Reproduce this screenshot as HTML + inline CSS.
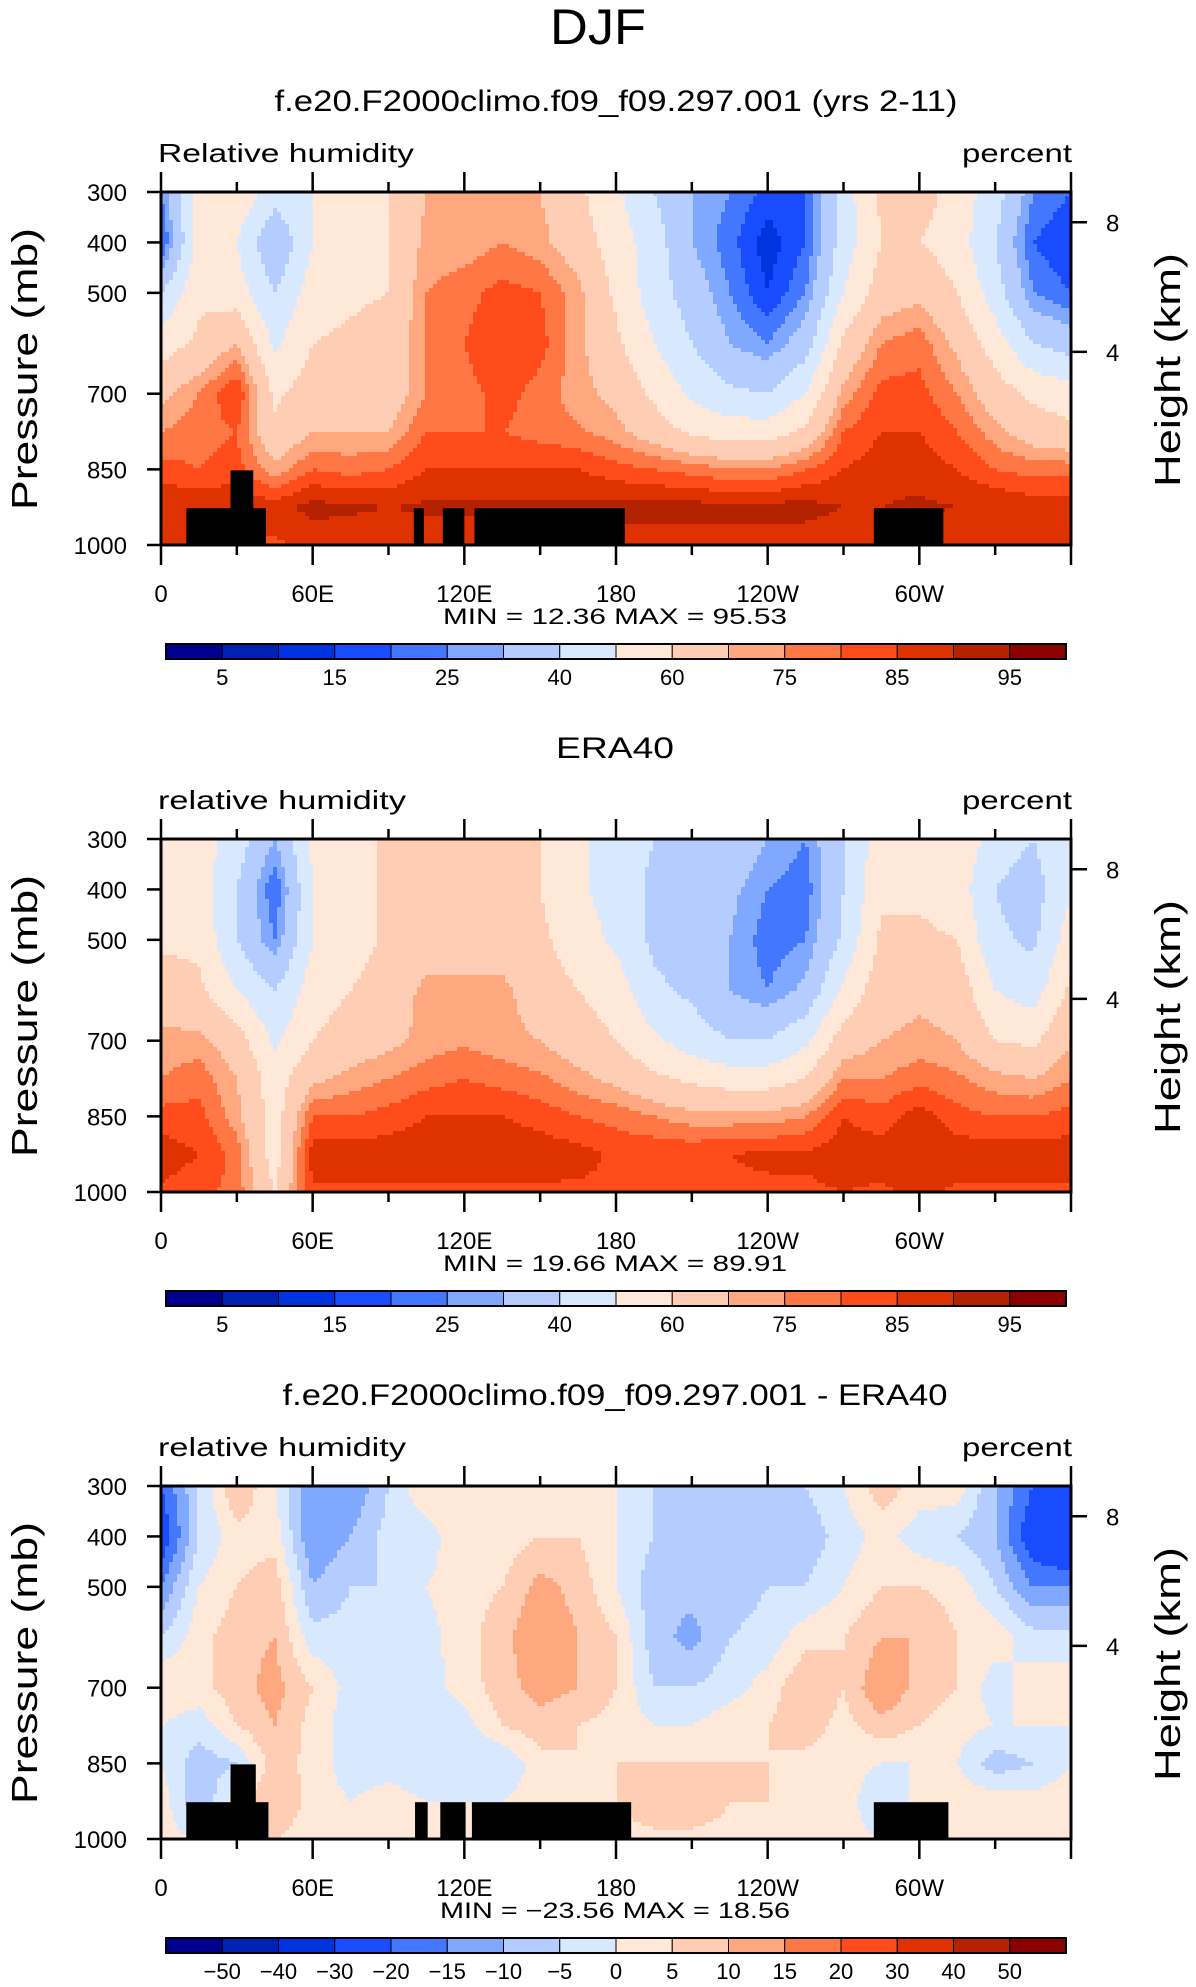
<!DOCTYPE html>
<html><head><meta charset="utf-8">
<style>
html,body{margin:0;padding:0;background:#fff;}
svg{display:block;}
text{font-family:"Liberation Sans",sans-serif;fill:#000;}
</style></head>
<body>
<svg id="fig" width="1196" height="1987" viewBox="0 0 1196 1987" xmlns="http://www.w3.org/2000/svg">
<text x="598" y="44" font-size="50" text-anchor="middle" textLength="96" lengthAdjust="spacingAndGlyphs">DJF</text>
</svg>
<script>
// ---- data ----
const lons = [0,15,30,45,60,75,90,105,120,135,150,165,180,195,210,225,240,255,270,285,300,315,330,345,360];
const levels = [300,400,500,600,700,775,850,925,1000];
const modelRH = [
[25,55,58,45,50,55,60,70,72,72,70,62,52,40,30,25,18,20,45,62,65,55,45,25,20],
[18,55,50,30,50,55,60,72,72,75,72,65,55,45,30,22,12,20,45,60,60,55,40,20,15],
[40,58,55,40,55,58,60,75,78,82,80,72,58,45,35,25,15,25,50,65,68,60,45,25,20],
[55,62,70,48,60,62,65,75,80,85,82,72,62,50,40,30,25,35,62,75,78,68,55,40,35],
[68,75,85,58,65,65,65,75,78,82,78,72,68,58,48,42,40,50,72,82,82,75,65,58,55],
[75,78,80,62,70,70,70,80,80,80,78,76,72,65,58,55,55,62,80,85,85,80,72,65,62],
[82,80,82,72,80,78,80,85,85,85,85,85,82,80,78,75,75,80,85,88,88,85,80,78,78],
[90,90,90,88,92,91,90,91,91,91,91,91,92,92,92,92,92,92,90,90,91,90,90,88,88],
[86,86,84,84,86,86,86,86,86,86,86,86,87,87,87,87,87,87,86,86,86,86,86,86,86]];
const eraRH = [
[55,55,45,30,52,55,62,65,65,65,60,52,45,40,38,38,30,25,40,55,60,58,45,40,50],
[55,55,40,20,50,55,62,65,65,65,60,52,45,38,35,32,25,22,40,58,58,55,40,35,50],
[58,58,40,25,50,55,62,65,65,65,62,55,48,38,35,30,22,25,42,62,62,60,42,38,55],
[65,62,50,40,55,60,65,72,72,72,65,60,55,42,38,30,25,32,52,66,68,66,50,45,62],
[72,72,65,48,60,65,68,72,74,72,70,65,60,52,45,40,40,48,65,70,72,70,60,58,70],
[75,78,70,55,68,72,75,78,80,78,76,72,68,62,58,55,55,60,75,75,78,76,72,70,75],
[82,82,72,55,80,80,82,85,85,85,83,80,78,75,72,72,72,75,85,82,88,82,80,80,82],
[88,85,78,55,88,88,88,89,89,89,88,87,84,84,84,85,86,86,88,88,89,88,88,88,88],
[84,82,78,60,84,84,84,84,84,84,84,84,84,84,84,84,84,84,85,84,86,84,84,84,84]];
const diffRH = [
[-20,-5,10,0,-15,-15,-5,5,5,0,3,3,0,-5,-5,-5,-5,-5,0,8,3,3,-10,-20,-25],
[-25,-5,3,3,-15,-10,-3,-3,5,2,5,5,0,-5,-8,-10,-8,-8,-3,2,-3,-5,-10,-25,-30],
[-15,0,5,8,-10,-5,-5,0,3,5,12,8,0,-8,-8,-8,-5,-5,0,5,5,3,-5,-15,-15],
[-5,3,8,10,-3,-3,-3,-2,3,8,15,10,5,-8,-12,-5,-3,3,5,10,10,5,3,-3,-3],
[5,3,8,12,5,-2,0,-2,2,8,12,10,5,-5,-5,-2,2,10,5,15,8,5,-3,3,3],
[0,-3,5,10,3,-3,-3,-3,-2,5,8,5,3,0,0,3,5,8,3,8,5,2,0,0,0],
[0,-8,-5,8,3,-3,-2,-3,-5,-5,3,5,5,5,5,5,5,3,2,0,0,0,-8,-5,0],
[3,-10,3,10,3,0,2,0,0,0,3,3,5,10,10,5,5,3,3,-5,2,3,3,2,3],
[2,0,2,5,2,2,2,0,0,2,3,3,3,3,3,3,2,2,2,0,2,3,2,2,2]];
const rhBounds = [5,10,15,20,25,30,40,50,60,70,75,80,85,90,95];
const rhLabels = ["5","","15","","25","","40","","60","","75","","85","","95"];
const diffBounds = [-50,-40,-30,-20,-15,-10,-5,0,5,10,15,20,30,40,50];
const diffLabels = ["\u221250","\u221240","\u221230","\u221220","\u221215","\u221210","\u22125","0","5","10","15","20","30","40","50"];
const terrain1 = [[10,41.5,927],[27.5,36.5,852],[100,104,927],[111.5,120,927],[124,183.5,927],[282,309.5,927]];
const terrain3 = [[10,42.5,927],[27.5,37.5,852],[100.5,105.5,927],[110.5,120.5,927],[123,186,927],[282,311.5,927]];
const xTickVals = [0,60,120,180,240,300];
const xTickLabels = ["0","60E","120E","180","120W","60W"];
const pTicks = [300,400,500,700,850,1000];
const hTicks = [8,4];
const hTickP = [360,617];
const palette = ["#00008f","#0022b4","#0033e0","#1a4cff","#4477ff","#80a8ff","#b4ccff","#d8e8ff","#ffe8d8","#ffccb4","#ffa880","#ff7744","#ff4c1a","#de3300","#b42200","#8b0000"];

// ---- layout ----
const NS="http://www.w3.org/2000/svg";
const svg=document.getElementById('fig');
const PX0=161, PX1=1071, PH=353;
function el(tag,attrs,parent){const e=document.createElementNS(NS,tag);for(const k in attrs)e.setAttribute(k,attrs[k]);(parent||svg).appendChild(e);return e;}
function xScale(lon){return PX0+(lon/360)*(PX1-PX0);}
function yScale(p,top){return top+(p-300)/700*PH;}
function colorFor(v,b){let i=0;while(i<b.length&&v>=b[i])i++;return palette[i];}
function sample(grid,lon,p){
  let i=Math.min(Math.floor(lon/15),23);let fx=(lon-lons[i])/15;
  let j=0;while(j<levels.length-2&&p>levels[j+1])j++;
  let fy=(p-levels[j])/(levels[j+1]-levels[j]);
  const a=grid[j][i],b=grid[j][i+1],c=grid[j+1][i],d=grid[j+1][i+1];
  return (a*(1-fx)+b*fx)*(1-fy)+(c*(1-fx)+d*fx)*fy;
}
function panel(off,title,titleLen,titleX,left,minmax,mmLen,grid,bounds,labels,terrain,pname){
  const top=192+off;
  const g=el('g',{});
  
  
  const t=el('text',{x:titleX,y:111+off,'font-size':30,'text-anchor':'middle',textLength:titleLen,lengthAdjust:'spacingAndGlyphs'},g);
  t.textContent=title;
  
  
  const l=el('text',{x:158,y:162+off,'font-size':26,textLength:left==='Relative humidity'?256:248,lengthAdjust:'spacingAndGlyphs'},g);
  l.textContent=left;
  
  
  const u=el('text',{x:1072,y:162+off,'font-size':26,'text-anchor':'end',textLength:110,lengthAdjust:'spacingAndGlyphs'},g);
  u.textContent='percent';
  
  
  const hm=el('g',{'shape-rendering':'crispEdges'},g);
  
  
  const cw=4,ch=4;
  for(let y=0;y<PH;y+=ch){
    const p=300+(y+ch/2)/PH*700;
    let x=0;
    while(x<PX1-PX0){
      const lon=(x+cw/2)/(PX1-PX0)*360;
      const c=colorFor(sample(grid,lon,p),bounds);
      let w=cw;
      while(x+w<PX1-PX0){const lon2=(x+w+cw/2)/(PX1-PX0)*360;if(colorFor(sample(grid,lon2,p),bounds)!==c)break;w+=cw;}
      const r=el('rect',{x:PX0+x,y:top+y,width:Math.min(w,PX1-PX0-x)+0.5,height:Math.min(ch,PH-y)+0.5,fill:c},hm);
      
      
      x+=w;
    }
  }
  if(terrain){for(const tr of terrain){
    const r=el('rect',{x:xScale(tr[0]),y:yScale(tr[2],top),width:xScale(tr[1])-xScale(tr[0]),height:yScale(1000,top)-yScale(tr[2],top),fill:'#000'},g);
    
    
  }}
  const fr=el('rect',{x:PX0,y:top,width:PX1-PX0,height:PH,fill:'none',stroke:'#000','stroke-width':3},g);
  
  
  for(let lon=0;lon<=360;lon+=30){
    const maj=lon%60===0,len=maj?20:10,x=xScale(lon);
    el('line',{x1:x,y1:top,x2:x,y2:top-len,stroke:'#000','stroke-width':2.5},g);
    el('line',{x1:x,y1:top+PH,x2:x,y2:top+PH+len,stroke:'#000','stroke-width':2.5},g);
  }
  xTickVals.forEach((v,i)=>{
    const tx=el('text',{x:xScale(v),y:602+off,'font-size':24,'text-anchor':'middle'},g);
    tx.textContent=xTickLabels[i];
    
    
  });
  pTicks.forEach(p=>{
    const y=yScale(p,top);
    el('line',{x1:PX0,y1:y,x2:PX0-14,y2:y,stroke:'#000','stroke-width':2.5},g);
    const tx=el('text',{x:127,y:y+9,'font-size':24,'text-anchor':'end'},g);
    tx.textContent=String(p);
    
    
  });
  hTicks.forEach((h,i)=>{
    const y=yScale(hTickP[i],top);
    el('line',{x1:PX1,y1:y,x2:PX1+16,y2:y,stroke:'#000','stroke-width':2.5},g);
    const tx=el('text',{x:1106,y:y+9,'font-size':24},g);
    tx.textContent=String(h);
    
    
  });
  const ya=el('text',{x:0,y:0,'font-size':36,'text-anchor':'middle',transform:`translate(37,${top+177}) rotate(-90)`,textLength:282,lengthAdjust:'spacingAndGlyphs'},g);
  ya.textContent='Pressure  (mb)';
  
  
  const yr=el('text',{x:0,y:0,'font-size':36,'text-anchor':'middle',transform:`translate(1180,${top+178}) rotate(-90)`,textLength:234,lengthAdjust:'spacingAndGlyphs'},g);
  yr.textContent='Height  (km)';
  
  
  const mm=el('text',{x:615,y:624+off,'font-size':22,'text-anchor':'middle',textLength:mmLen,lengthAdjust:'spacingAndGlyphs','xml:space':'preserve'},g);
  mm.textContent=minmax;
  
  
  const cb=el('g',{},g);
  
  
  const cx0=166,cwid=900/16,cy=644+off;
  palette.forEach((c,i)=>{
    const r=el('rect',{x:cx0+i*cwid,y:cy,width:cwid,height:15,fill:c,stroke:'#000','stroke-width':1},cb);
    
    
  });
  el('rect',{x:cx0,y:cy,width:900,height:15,fill:'none',stroke:'#000','stroke-width':2},cb);
  labels.forEach((s,i)=>{
    if(!s)return;
    const tx=el('text',{x:cx0+(i+1)*cwid,y:685+off,'font-size':22,'text-anchor':'middle'},cb);
    tx.textContent=s;
    
    
  });
}
panel(0,'f.e20.F2000climo.f09_f09.297.001 (yrs 2-11)',683,616,'Relative humidity','MIN =   12.36   MAX =   95.53',344,modelRH,rhBounds,rhLabels,terrain1,'model-panel');
panel(647,'ERA40',118,615,'relative humidity','MIN =   19.66   MAX =   89.91',344,eraRH,rhBounds,rhLabels,null,'era40-panel');
panel(1294,'f.e20.F2000climo.f09_f09.297.001 - ERA40',665,615,'relative humidity','MIN = \u221223.56   MAX =   18.56',350,diffRH,diffBounds,diffLabels,terrain3,'difference-panel');
</script>
</body></html>
